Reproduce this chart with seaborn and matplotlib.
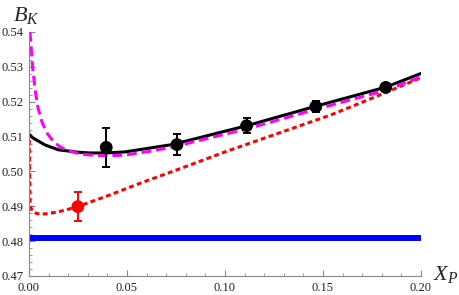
import numpy as np
import pandas as pd
import matplotlib
matplotlib.use("Agg")
import matplotlib.pyplot as plt
import seaborn as sns
from matplotlib.ticker import MultipleLocator, FormatStrFormatter

# ---- data ----
black_x = [0.0, 0.002, 0.0082, 0.015, 0.0252, 0.0312, 0.039, 0.049, 0.073, 0.111, 0.1463, 0.1821, 0.2]
black_y = [0.5107, 0.5096, 0.5076, 0.5062, 0.5055, 0.5053, 0.5053, 0.5056, 0.5077, 0.5131, 0.5187, 0.5242, 0.5281]

magenta_x = [0.0005, 0.001, 0.0018, 0.0031, 0.0046, 0.0066, 0.0092, 0.0123, 0.0159, 0.020,
             0.0261, 0.0338, 0.0414, 0.0491, 0.0619, 0.0731, 0.111, 0.1463, 0.1821, 0.2]
magenta_y = [0.5400, 0.5363, 0.5302, 0.5234, 0.5182, 0.5142, 0.5110, 0.5087, 0.5070, 0.5060,
             0.5050, 0.5046, 0.5045, 0.5047, 0.5058, 0.5070, 0.5122, 0.5178, 0.5233, 0.5271]

red_x = [0.00015, 0.0003, 0.0005, 0.001, 0.002, 0.0041, 0.0082, 0.015, 0.0249, 0.0312,
         0.0406, 0.0576, 0.082, 0.1, 0.154, 0.175, 0.2]
red_y = [0.5090, 0.5004, 0.4918, 0.4895, 0.4884, 0.4879, 0.4878, 0.4884, 0.4899, 0.4912,
         0.4931, 0.4968, 0.5018, 0.5056, 0.5162, 0.5210, 0.5269]

blue_x = [0.0, 0.2]
blue_y = [0.4808, 0.4808]

pts_black_x = [0.0394, 0.0755, 0.111, 0.1463, 0.182]
pts_black_y = [0.5069, 0.5077, 0.5131, 0.5186, 0.5241]
pts_black_err = [0.0057, 0.0030, 0.0021, 0.0015, 0.0010]

pts_red_x = [0.0249]
pts_red_y = [0.4899]
pts_red_err = [0.0042]

xticks = [0.00, 0.05, 0.10, 0.15, 0.20]
yticks = [0.47, 0.48, 0.49, 0.50, 0.51, 0.52, 0.53, 0.54]

# ---- styling ----
sns.set_style("white")
plt.rcParams['font.family'] = ['Liberation Serif', 'DejaVu Serif']
plt.rcParams['mathtext.fontset'] = 'custom'
plt.rcParams['mathtext.it'] = 'Liberation Serif:italic'
plt.rcParams['mathtext.rm'] = 'Liberation Serif'

fig = plt.figure(figsize=(4.6, 2.95), dpi=100)
ax = fig.add_axes([29/460, 19/295, 392/460, 244/295])

df_blue = pd.DataFrame({"x": blue_x, "y": blue_y})
df_red = pd.DataFrame({"x": red_x, "y": red_y})
df_black = pd.DataFrame({"x": black_x, "y": black_y})
df_mag = pd.DataFrame({"x": magenta_x, "y": magenta_y})

sns.lineplot(data=df_blue, x="x", y="y", ax=ax, color="#0000FF", lw=4.3, sort=False)
sns.lineplot(data=df_red, x="x", y="y", ax=ax, color="#FF0000", lw=2.2, sort=False)
ax.lines[-1].set_dashes([1.6, 1.1])
sns.lineplot(data=df_black, x="x", y="y", ax=ax, color="black", lw=2.2, sort=False)
sns.lineplot(data=df_mag, x="x", y="y", ax=ax, color="#FF00FF", lw=2.2, sort=False)
ax.lines[-1].set_dashes([3.2, 1.6])

ax.errorbar(pts_black_x, pts_black_y, yerr=pts_black_err, fmt='none', ecolor='black',
            elinewidth=1.4, capsize=3.0, capthick=1.4, zorder=5)
ax.errorbar(pts_red_x, pts_red_y, yerr=pts_red_err, fmt='none', ecolor='#FF0000',
            elinewidth=1.4, capsize=3.0, capthick=1.4, zorder=5)
sns.scatterplot(x=pts_black_x, y=pts_black_y, ax=ax, color='black', s=85, edgecolor='none', zorder=6)
sns.scatterplot(x=pts_red_x, y=pts_red_y, ax=ax, color='#FF0000', s=85, edgecolor='none', zorder=6)

ax.set_xlim(0, 0.2)
ax.set_ylim(0.47, 0.54)
ax.set_xticks(xticks)
ax.set_yticks(yticks)
ax.xaxis.set_major_formatter(FormatStrFormatter('%.2f'))
ax.yaxis.set_major_formatter(FormatStrFormatter('%.2f'))
ax.xaxis.set_minor_locator(MultipleLocator(0.01))
ax.yaxis.set_minor_locator(MultipleLocator(0.002))
ax.tick_params(which='major', direction='in', length=4, width=0.8, color='#888888',
               labelsize=9, labelcolor='#222222', pad=4)
ax.tick_params(which='minor', direction='in', length=2.2, width=0.6, color='#888888')
ax.tick_params(axis='x', which='both', bottom=True, top=False)
ax.tick_params(axis='y', which='both', left=True, right=False)
for s in ['top', 'right']:
    ax.spines[s].set_visible(False)
for s in ['left', 'bottom']:
    ax.spines[s].set_color('#888888')
    ax.spines[s].set_linewidth(0.8)
ax.set_xlabel("")
ax.set_ylabel("")
ax.patch.set_alpha(0)

fig.text(13/460, (295-21)/295, r'$B_K$', fontsize=16, ha='left', va='baseline')
fig.text(433/460, (295-280)/295, r'$X_P$', fontsize=16, ha='left', va='baseline')

fig.savefig("out.png", dpi=100)
